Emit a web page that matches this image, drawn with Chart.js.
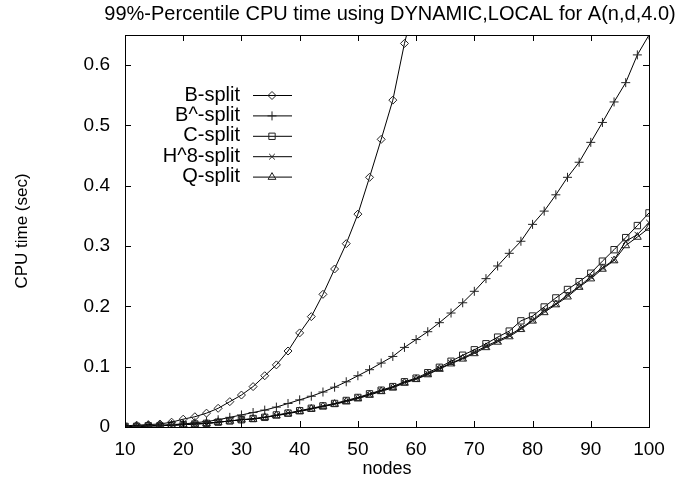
<!DOCTYPE html>
<html>
<head>
<meta charset="utf-8">
<script src="https://cdn.jsdelivr.net/npm/chart.js@4.4.0/dist/chart.umd.min.js"></script>
<style>
  html, body { margin: 0; padding: 0; background: #fff; }
  #wrap { width: 683px; height: 480px; }
</style>
</head>
<body>
<div id="wrap"><canvas id="cpuChart" width="683" height="480"></canvas></div>
<script>
const titleText = '99%-Percentile CPU time using DYNAMIC,LOCAL for A(n,d,4.0)';
const nodes = [10, 12, 14, 16, 18, 20, 22, 24, 26, 28, 30, 32, 34, 36, 38, 40, 42, 44, 46, 48, 50, 52, 54, 56, 58,
               60, 62, 64, 66, 68, 70, 72, 74, 76, 78, 80, 82, 84, 86, 88, 90, 92, 94, 96, 98, 100];

// B-split only measured up to where it leaves the plot
const bSplit = [0.002, 0.003, 0.004, 0.005, 0.008, 0.013, 0.017, 0.023, 0.031, 0.042, 0.053, 0.067, 0.085, 0.103,
                0.126, 0.156, 0.183, 0.220, 0.262, 0.304, 0.353, 0.414, 0.477, 0.542, 0.636, 0.712];
const bHatSplit = [0.001, 0.001, 0.002, 0.003, 0.004, 0.005, 0.007, 0.009, 0.012, 0.016, 0.020, 0.024, 0.028, 0.033,
                   0.039, 0.045, 0.051, 0.058, 0.066, 0.075, 0.085, 0.095, 0.106, 0.117, 0.132, 0.145, 0.158, 0.173,
                   0.189, 0.206, 0.225, 0.246, 0.267, 0.288, 0.308, 0.336, 0.358, 0.385, 0.414, 0.439, 0.472, 0.505,
                   0.539, 0.571, 0.617, 0.650];
const cSplit = [0.001, 0.001, 0.002, 0.002, 0.003, 0.004, 0.005, 0.006, 0.008, 0.010, 0.012, 0.014, 0.016, 0.020,
                0.023, 0.027, 0.031, 0.035, 0.039, 0.044, 0.049, 0.055, 0.061, 0.067, 0.075, 0.081, 0.090, 0.099,
                0.109, 0.119, 0.128, 0.138, 0.149, 0.159, 0.176, 0.184, 0.199, 0.214, 0.228, 0.241, 0.255, 0.275,
                0.294, 0.314, 0.334, 0.355];
const h8Split = [0.001, 0.001, 0.002, 0.002, 0.003, 0.004, 0.005, 0.006, 0.008, 0.010, 0.012, 0.013, 0.016, 0.019,
                 0.023, 0.026, 0.030, 0.034, 0.038, 0.043, 0.048, 0.054, 0.060, 0.066, 0.074, 0.080, 0.088, 0.097,
                 0.106, 0.114, 0.124, 0.134, 0.143, 0.152, 0.164, 0.177, 0.193, 0.204, 0.219, 0.233, 0.249, 0.264,
                 0.277, 0.308, 0.319, 0.339];
const qSplit = [0.001, 0.001, 0.002, 0.002, 0.003, 0.004, 0.005, 0.006, 0.008, 0.010, 0.012, 0.013, 0.016, 0.019,
                0.022, 0.026, 0.030, 0.034, 0.038, 0.042, 0.047, 0.053, 0.059, 0.065, 0.073, 0.079, 0.087, 0.096,
                0.105, 0.113, 0.122, 0.132, 0.141, 0.150, 0.162, 0.176, 0.190, 0.203, 0.216, 0.232, 0.246, 0.262,
                0.276, 0.301, 0.315, 0.330];

const seriesNames = ['B-split', 'B^-split', 'C-split', 'H^8-split', 'Q-split'];
const seriesValues = [bSplit, bHatSplit, cSplit, h8Split, qSplit];
const seriesMarkers = ['rectRot', 'cross', 'rect', 'crossRot', 'triangle'];
const markerSizes = [4, 4.5, 4.5, 4, 4.5];

const FONT = 'Liberation Sans, Arial, Helvetica, sans-serif';

function toPoints(values) {
    return values.map((v, i) => ({ x: nodes[i], y: v }));
}

const datasets = seriesNames.map((name, i) => ({
    label: name,
    data: toPoints(seriesValues[i]),
    borderColor: '#000',
    borderWidth: 1,
    pointStyle: seriesMarkers[i],
    pointRadius: markerSizes[i],
    pointBorderColor: '#222',
    pointBackgroundColor: 'rgba(0,0,0,0)',
    pointBorderWidth: 1,
    tension: 0,
    fill: false
}));

// frame, inward ticks on all four sides, title and gnuplot-like legend
const gnuplotFrame = {
    id: 'gnuplotFrame',
    afterDraw(chart) {
        const ctx = chart.ctx;
        const a = chart.chartArea;
        const xs = chart.scales.x, ys = chart.scales.y;
        ctx.save();
        ctx.strokeStyle = '#000';
        ctx.lineWidth = 1;
        ctx.strokeRect(a.left + 0.5, a.top + 0.5, a.right - a.left, a.bottom - a.top);
        const len = 6;
        ctx.beginPath();
        xs.ticks.forEach(t => {
            const px = Math.round(xs.getPixelForValue(t.value)) + 0.5;
            ctx.moveTo(px, a.bottom); ctx.lineTo(px, a.bottom - len);
            ctx.moveTo(px, a.top); ctx.lineTo(px, a.top + len);
        });
        ys.ticks.forEach(t => {
            const py = Math.round(ys.getPixelForValue(t.value)) + 0.5;
            ctx.moveTo(a.left, py); ctx.lineTo(a.left + len, py);
            ctx.moveTo(a.right, py); ctx.lineTo(a.right - len, py);
        });
        ctx.stroke();

        ctx.fillStyle = '#000';
        ctx.font = '20px ' + FONT;
        ctx.textAlign = 'center';
        ctx.textBaseline = 'middle';
        ctx.fillText(titleText, 390, 14);

        // legend
        ctx.font = '20px ' + FONT;
        ctx.textAlign = 'right';
        seriesNames.forEach((name, i) => {
            const y = 95 + i * 20.4;
            ctx.fillStyle = '#000';
            ctx.fillText(name, 240, y);
            ctx.beginPath();
            ctx.moveTo(253, y + 0.5); ctx.lineTo(292, y + 0.5);
            ctx.stroke();
            ctx.strokeStyle = '#222';
            ctx.fillStyle = 'rgba(0,0,0,0)';
            Chart.helpers.drawPoint(ctx, {
                pointStyle: seriesMarkers[i], radius: markerSizes[i], borderWidth: 1, rotation: 0
            }, 272, y + 0.5);
            ctx.strokeStyle = '#000';
        });
        ctx.restore();
    }
};

new Chart(document.getElementById('cpuChart'), {
    type: 'line',
    data: { datasets },
    options: {
        responsive: false,
        animation: false,
        layout: { padding: { top: 35, right: 34, left: 0, bottom: 0 } },
        plugins: {
            legend: { display: false },
            title: { display: false },
            tooltip: { enabled: false }
        },
        scales: {
            x: {
                type: 'linear',
                min: 10,
                max: 100,
                grid: { display: false },
                border: { display: false },
                ticks: {
                    stepSize: 10,
                    color: '#000',
                    font: { family: FONT, size: 19 },
                    padding: 3
                },
                title: {
                    display: true,
                    text: 'nodes',
                    color: '#000',
                    font: { family: FONT, size: 18 },
                    padding: { top: -7, bottom: 0 }
                },
                afterFit(scale) { scale.height = 53; }
            },
            y: {
                type: 'linear',
                min: 0,
                max: 0.65,
                grid: { display: false },
                border: { display: false },
                ticks: {
                    stepSize: 0.1,
                    includeBounds: false,
                    color: '#000',
                    font: { family: FONT, size: 19 },
                    padding: 7,
                    callback: v => String(Math.round(v * 10) / 10)
                },
                title: {
                    display: true,
                    text: 'CPU time (sec)',
                    color: '#000',
                    font: { family: FONT, size: 17 },
                    padding: { top: 12, bottom: 20 }
                },
                afterFit(scale) { scale.width = 125; }
            }
        }
    },
    plugins: [gnuplotFrame]
});
</script>
</body>
</html>
